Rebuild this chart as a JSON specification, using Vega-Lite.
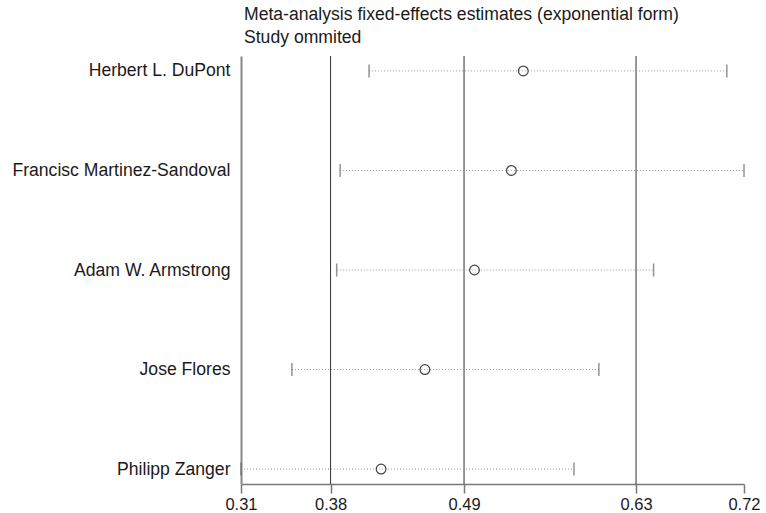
{
  "$schema": "https://vega.github.io/schema/vega-lite/v6.json",
  "width": 503,
  "height": 428,
  "autosize": {"type": "none"},
  "padding": {"left": 241, "top": 56, "right": 22, "bottom": 29},
  "background": "white",
  "config": {
    "view": {"stroke": null},
    "font": "Liberation Sans"
  },
  "title": {
    "text": ["Meta-analysis fixed-effects estimates (exponential form)", "Study ommited"],
    "anchor": "start",
    "frame": "group",
    "fontSize": 17.6,
    "fontWeight": "normal",
    "font": "Liberation Sans",
    "color": "#1a1a1a",
    "lineHeight": 23,
    "offset": 9,
    "dx": 3
  },
  "datasets": {
    "studies": [
      {"study": "Herbert L. DuPont", "est": 0.5411, "lo": 0.4154, "hi": 0.707},
      {"study": "Francisc Martinez-Sandoval", "est": 0.5314, "lo": 0.3918, "hi": 0.721},
      {"study": "Adam W. Armstrong", "est": 0.5013, "lo": 0.389, "hi": 0.6473},
      {"study": "Jose Flores", "est": 0.4609, "lo": 0.3525, "hi": 0.6027},
      {"study": "Philipp Zanger", "est": 0.4252, "lo": 0.311, "hi": 0.5824}
    ],
    "overall": [
      {"label": "lower", "value": 0.384},
      {"label": "estimate", "value": 0.4928},
      {"label": "upper", "value": 0.633}
    ]
  },
  "layer": [
    {
      "data": {"name": "overall"},
      "mark": {"type": "rule", "color": "#333333", "strokeWidth": 1},
      "encoding": {
        "x": {"field": "value", "type": "quantitative"}
      }
    },
    {
      "data": {"name": "studies"},
      "mark": {"type": "rule", "color": "#9a9a9a", "strokeWidth": 1, "strokeDash": [1, 2]},
      "encoding": {
        "y": {"field": "study", "type": "ordinal"},
        "x": {"field": "lo", "type": "quantitative"},
        "x2": {"field": "hi"}
      }
    },
    {
      "data": {"name": "studies"},
      "mark": {"type": "tick", "color": "#666666", "size": 13, "thickness": 1.5},
      "encoding": {
        "y": {"field": "study", "type": "ordinal"},
        "x": {"field": "lo", "type": "quantitative"}
      }
    },
    {
      "data": {"name": "studies"},
      "mark": {"type": "tick", "color": "#666666", "size": 13, "thickness": 1.5},
      "encoding": {
        "y": {"field": "study", "type": "ordinal"},
        "x": {"field": "hi", "type": "quantitative"}
      }
    },
    {
      "data": {"name": "studies"},
      "mark": {"type": "point", "shape": "circle", "filled": false, "size": 95, "stroke": "#444444", "strokeWidth": 1.2, "opacity": 1},
      "encoding": {
        "y": {"field": "study", "type": "ordinal"},
        "x": {"field": "est", "type": "quantitative"}
      }
    }
  ],
  "encoding": {
    "x": {
      "type": "quantitative",
      "scale": {"domain": [0.311, 0.721], "zero": false, "nice": false},
      "axis": {
        "title": null,
        "values": [0.311, 0.384, 0.4928, 0.633, 0.721],
        "format": ".2f",
        "grid": false,
        "domainColor": "#777777",
        "domainWidth": 1.5,
        "tickColor": "#777777",
        "tickWidth": 1.5,
        "tickSize": 9,
        "labelFontSize": 16.5,
        "labelColor": "#1a1a1a",
        "labelPadding": 3,
        "labelFlush": false,
        "labelOverlap": false
      }
    },
    "y": {
      "type": "ordinal",
      "sort": null,
      "scale": {"type": "point", "padding": 0.15},
      "axis": {
        "title": null,
        "ticks": false,
        "grid": false,
        "domainColor": "#888888",
        "domainWidth": 2,
        "labelFontSize": 17.6,
        "labelLimit": 400,
        "labelColor": "#1a1a1a",
        "labelPadding": 11
      }
    }
  }
}
